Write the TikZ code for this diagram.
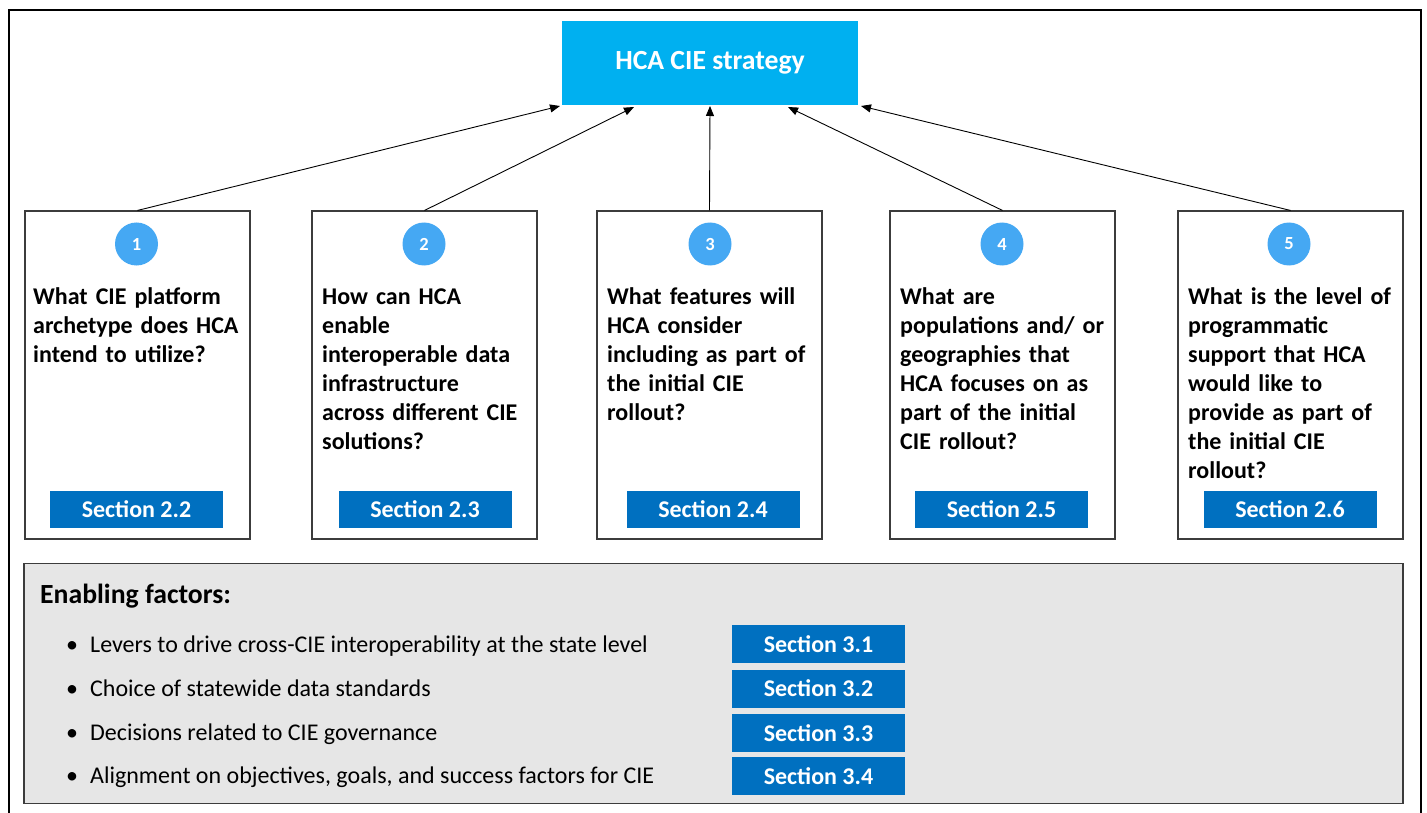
\documentclass[tikz,border=0pt]{standalone}
\usepackage{fontspec}
\setmainfont{Carlito}
\usetikzlibrary{arrows.meta}
\definecolor{hcablue}{HTML}{00B0F0}
\definecolor{circblue}{HTML}{45A8F3}
\definecolor{secblue}{HTML}{0070C0}
\definecolor{boxline}{HTML}{3C3C3C}
\definecolor{grayfill}{HTML}{E6E6E6}
\begin{document}
\begin{tikzpicture}[x=1pt,y=-1pt,
  qbox/.style={draw=boxline,line width=1.1pt,minimum width=225pt,minimum height=328pt,inner sep=0pt},
  numcirc/.style={circle,fill=circblue,minimum size=43pt,inner sep=0pt,text=white,font=\bfseries\fontsize{18.5}{18.5}\selectfont},
  qtext/.style={anchor=base west,inner sep=0pt,text width=218pt,align=left,font=\bfseries\fontsize{24}{29}\selectfont},
  secbox/.style={fill=secblue,minimum width=173pt,minimum height=37pt,inner sep=0pt,text=white,font=\bfseries\fontsize{24}{24}\selectfont},
  btext/.style={anchor=base west,inner sep=0pt,font=\fontsize{24}{24}\selectfont},
  conn/.style={-{Triangle[length=10pt,width=8pt]},line width=0.9pt,black}
]
\useasboundingbox (0,0) rectangle (1427,813);
% outer frame
\draw[line width=2pt] (9,813) -- (9,10) -- (1421,10) -- (1421,813);
% top node
\node[fill=hcablue,minimum width=296pt,minimum height=84pt,inner sep=0pt,text=white,font=\bfseries\fontsize{27.7}{27.7}\selectfont] (hca) at (710,63) {HCA CIE strategy};
% question boxes
\node[qbox] (q1) at (137.5,375) {};
\node[qbox] (q2) at (424.5,375) {};
\node[qbox] (q3) at (709.5,375) {};
\node[qbox] (q4) at (1002.5,375) {};
\node[qbox] (q5) at (1290.5,375) {};
% number circles
\node[numcirc] (c1) at (136.5,244) {1};
\node[numcirc] (c2) at (424,244) {2};
\node[numcirc] (c3) at (710,244) {3};
\node[numcirc] (c4) at (1002,244) {4};
\node[numcirc] (c5) at (1289,244) {5};
% question texts
\node[qtext] (t1) at (33,304) {What CIE platform\\archetype does HCA\\intend to utilize?};
\node[qtext] (t2) at (322,304) {How can HCA\\enable\\interoperable data\\infrastructure\\across different CIE\\solutions?};
\node[qtext] (t3) at (607,304) {What features will\\HCA consider\\including as part of\\the initial CIE\\rollout?};
\node[qtext] (t4) at (900,304) {What are\\populations and/ or\\geographies that\\HCA focuses on as\\part of the initial\\CIE rollout?};
\node[qtext] (t5) at (1188,304) {What is the level of\\programmatic\\support that HCA\\would like to\\provide as part of\\the initial CIE\\rollout?};
% section boxes
\node[secbox] (s1) at (136.5,509.5) {Section 2.2};
\node[secbox] (s2) at (425,509.5) {Section 2.3};
\node[secbox] (s3) at (713,509.5) {Section 2.4};
\node[secbox] (s4) at (1001.5,509.5) {Section 2.5};
\node[secbox] (s5) at (1290,509.5) {Section 2.6};
% connectors
\coordinate (h1) at (560,106);
\coordinate (h2) at (634,107);
\coordinate (h3) at (710,106);
\coordinate (h4) at (788,107);
\coordinate (h5) at (861,106);
\draw[conn] (q1.north) -- (h1);
\draw[conn] (q2.north) -- (h2);
\draw[conn] (q3.north) -- (h3);
\draw[conn] (q4.north) -- (h4);
\draw[conn] (q5.north) -- (h5);
% enabling factors
\node[draw=boxline,fill=grayfill,line width=1.4pt,minimum width=1379pt,minimum height=240pt,inner sep=0pt] (ef) at (713.5,683.5) {};
\node[anchor=base west,inner sep=0pt,font=\bfseries\fontsize{27.7}{27.7}\selectfont] (eh) at (40,603) {Enabling factors:};
\node[btext] (b1) at (66,652) {•};
\node[btext] (b2) at (66,696) {•};
\node[btext] (b3) at (66,740) {•};
\node[btext] (b4) at (66,783) {•};
\node[btext] (e1) at (90,652) {Levers to drive cross-CIE interoperability at the state level};
\node[btext] (e2) at (90,696) {Choice of statewide data standards};
\node[btext] (e3) at (90,740) {Decisions related to CIE governance};
\node[btext] (e4) at (90,783) {Alignment on objectives, goals, and success factors for CIE};
\node[secbox,minimum height=38pt] (s31) at (818.5,644) {Section 3.1};
\node[secbox,minimum height=38pt] (s32) at (818.5,688.5) {Section 3.2};
\node[secbox,minimum height=38pt] (s33) at (818.5,733) {Section 3.3};
\node[secbox,minimum height=38pt] (s34) at (818.5,776) {Section 3.4};
\end{tikzpicture}
\end{document}
